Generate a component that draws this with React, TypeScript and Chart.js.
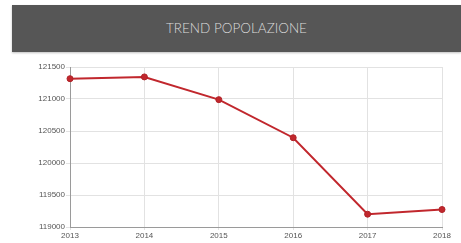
import React, { useEffect, useRef } from "react";
import { Chart, registerables } from "chart.js";

Chart.register(...registerables);

const title = "TREND POPOLAZIONE";
const years = ["2013", "2014", "2015", "2016", "2017", "2018"];
const population = [121317, 121345, 120990, 120395, 119200, 119273];
const yMin = 119000;
const yMax = 121500;
const yStep = 500;

export default function App() {
  const ref = useRef<HTMLCanvasElement | null>(null);

  useEffect(() => {
    if (!ref.current) return;
    const chart = new Chart(ref.current, {
      type: "line",
      data: {
        labels: years,
        datasets: [
          {
            data: population,
            borderColor: "#c1272d",
            backgroundColor: "#c1272d",
            borderWidth: 2,
            pointRadius: 3,
            pointBorderWidth: 1,
            pointHoverRadius: 3,
            pointBackgroundColor: "#c1272d",
            pointBorderColor: "#b02227",
            tension: 0,
            fill: false,
          },
        ],
      },
      options: {
        responsive: false,
        animation: false,
        layout: { padding: { left: 0, right: 19, top: 12, bottom: 0 } },
        plugins: { legend: { display: false }, tooltip: { enabled: false } },
        scales: {
          x: {
            offset: false,
            grid: { color: "#e2e2e2", tickLength: 3, drawTicks: true },
            border: { color: "#9a9a9a", width: 1 },
            ticks: {
              color: "#555",
              font: { family: "Liberation Sans, Arial", size: 8 },
              padding: 1,
              maxRotation: 0,
            },
            afterFit: (s: any) => {
              s.height = 16;
            },
          },
          y: {
            min: yMin,
            max: yMax,
            grid: { color: "#e2e2e2", tickLength: 4 },
            border: { color: "#9a9a9a", width: 1 },
            ticks: {
              stepSize: yStep,
              color: "#555",
              font: { family: "Liberation Sans, Arial", size: 8 },
              padding: 1,
              callback: (v: any) => String(v),
            },
            afterFit: (s: any) => {
              s.width = 70;
            },
          },
        },
      },
    });
    return () => chart.destroy();
  }, []);

  return (
    <div style={{ position: "absolute", left: 0, top: 0, width: 461, height: 243, background: "#fff" }}>
      <div
        style={{
          position: "absolute",
          left: 12,
          top: 5,
          width: 449,
          height: 47,
          background: "#565656",
          color: "#dcdcdc",
          fontFamily: "Lato, 'Liberation Sans', sans-serif",
          fontWeight: 300,
          fontSize: 13.5,
          lineHeight: "47px",
          textAlign: "center",
          boxShadow: "0 1px 2px rgba(0,0,0,0.25)",
        }}
      >
        {title}
      </div>
      <canvas
        ref={ref}
        width={461}
        height={188}
        style={{ position: "absolute", left: 0, top: 55, width: 461, height: 188 }}
      />
    </div>
  );
}
